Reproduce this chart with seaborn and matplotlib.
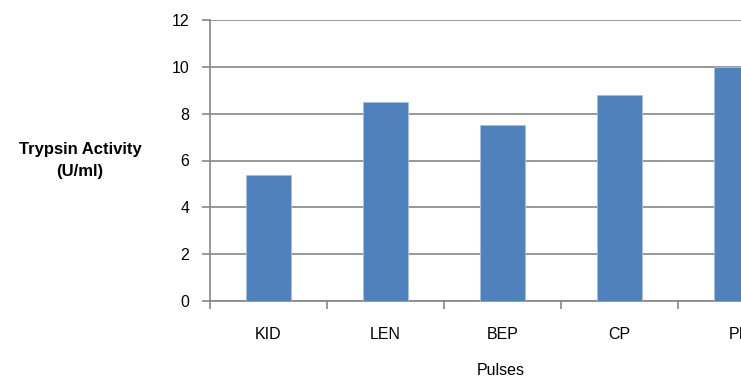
import numpy as np
import pandas as pd
import seaborn as sns
import matplotlib.pyplot as plt
from matplotlib.ticker import FixedLocator

pulses = ['KID', 'LEN', 'BEP', 'CP', 'PI']
activity = [5.4, 8.5, 7.5, 8.8, 10.0]

df = pd.DataFrame({'Pulses': pulses, 'Activity': activity})

sns.set_style('white')
plt.rcParams['font.family'] = ['Liberation Sans', 'DejaVu Sans']
plt.rcParams['text.color'] = 'black'
plt.rcParams['axes.labelcolor'] = 'black'
plt.rcParams['xtick.labelcolor'] = 'black'
plt.rcParams['ytick.labelcolor'] = 'black'

fig = plt.figure(figsize=(7.41, 3.80), dpi=100)
# axes run past the right edge, as in the original image
ax = fig.add_axes([210 / 741, 79 / 380, 585 / 741, 281 / 380])

sns.barplot(data=df, x='Pulses', y='Activity', color='#4F81BD', width=0.39,
            saturation=1, ax=ax, zorder=3, edgecolor='#A7BFDE', linewidth=0.6)

ax.set_xlim(-0.5, 4.5)
ax.set_ylim(0, 12)
ax.set_yticks(np.arange(0, 13, 2))
ax.yaxis.grid(True, color='#868686', linewidth=1.2, zorder=0)
ax.set_axisbelow(True)

for side in ['top', 'right']:
    ax.spines[side].set_visible(False)
for side in ['left', 'bottom']:
    ax.spines[side].set_color('#868686')
    ax.spines[side].set_linewidth(1.2)

# major ticks between categories, labels on minor ticks at the centres
ax.xaxis.set_major_locator(FixedLocator(np.arange(-0.5, 5, 1)))
ax.xaxis.set_major_formatter(plt.NullFormatter())
ax.xaxis.set_minor_locator(FixedLocator(range(len(pulses))))
ax.set_xticklabels(pulses, minor=True)
ax.tick_params(axis='x', which='major', length=6, width=1.2, color='#868686', bottom=True)
ax.tick_params(axis='x', which='minor', length=0, pad=19, labelsize=11.5)
ax.tick_params(axis='y', length=6, width=1.2, color='#868686', pad=9, labelsize=11.5, left=True)

ax.set_xlabel('Pulses', fontsize=11.5)
ax.xaxis.set_label_coords(0.497, -0.22)
ax.set_ylabel('Trypsin Activity\n(U/ml)', fontsize=12, fontweight='bold',
              rotation=0, ha='center', va='center', linespacing=1.6)
ax.yaxis.set_label_coords(-0.222, 0.5)

fig.savefig('out.png', dpi=100)
